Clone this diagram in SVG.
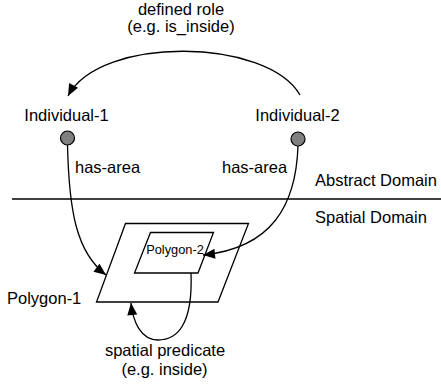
<svg xmlns="http://www.w3.org/2000/svg" width="441" height="387" viewBox="0 0 441 387">
<style>
text{font-family:"Liberation Sans",Arial,sans-serif;font-size:16.5px;fill:#000}
.c{stroke:#000;stroke-width:1.3;fill:none}
.s{stroke:#000;stroke-width:1.3;fill:#fff}
</style>
<defs>
<marker id="ah" viewBox="0 0 12 10" refX="12" refY="5" markerWidth="13" markerHeight="10" markerUnits="userSpaceOnUse" orient="auto">
<path d="M0,0 L12,5 L0,10 Z" fill="#000"/>
</marker>
</defs>
<rect width="441" height="387" fill="#fff"/>
<line x1="12" y1="199" x2="441" y2="199" stroke="#000" stroke-width="1.3"/>
<text x="315" y="186">Abstract Domain</text>
<text x="315" y="223">Spatial Domain</text>
<g id="polygon-1">
<polygon class="s" points="125.5,223.5 248.5,223.5 218,302 96.5,302"/>
<text x="7" y="303.5">Polygon-1</text>
</g>
<g id="polygon-2">
<polygon class="s" points="150.5,232.5 213.5,232.5 198,273 134.5,273"/>
<text x="175" y="253.5" text-anchor="middle" style="font-size:12.8px">Polygon-2</text>
</g>
<g id="individual-1">
<circle cx="67.5" cy="138" r="7" fill="#808080" stroke="#000" stroke-width="1.2"/>
<text x="66.5" y="121" text-anchor="middle">Individual-1</text>
</g>
<g id="individual-2">
<circle cx="298" cy="139" r="7" fill="#808080" stroke="#000" stroke-width="1.2"/>
<text x="297.5" y="121" text-anchor="middle">Individual-2</text>
</g>
<g id="connectors">
<path class="c" d="M300,95 C268,38 100,35 68,96" marker-end="url(#ah)"/>
<path class="c" d="M67.5,145 C69,210 76,252 106,275" marker-end="url(#ah)"/>
<path class="c" d="M298,146 C296,205 272,248 203,255" marker-end="url(#ah)"/>
<path class="c" d="M191,273 C193,325 177,340 158,340 C141,340 133,322 131,303" marker-end="url(#ah)"/>
</g>
<text x="181" y="14.5" text-anchor="middle">defined role</text>
<text x="181" y="31.5" text-anchor="middle">(e.g. is_inside)</text>
<text x="75" y="173">has-area</text>
<text x="222" y="173">has-area</text>
<text x="165" y="355.5" text-anchor="middle">spatial predicate</text>
<text x="164.5" y="375" text-anchor="middle">(e.g. inside)</text>
</svg>
